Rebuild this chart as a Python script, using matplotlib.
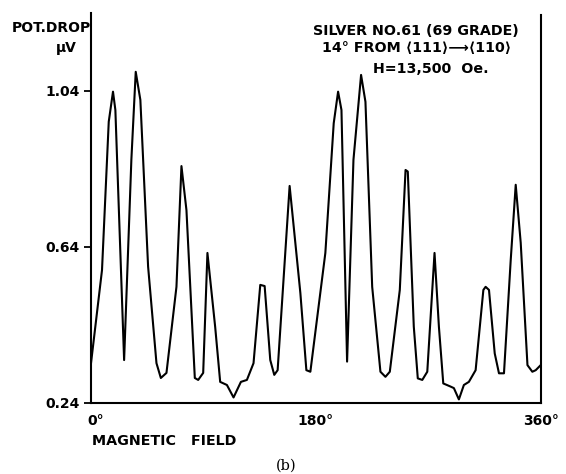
import matplotlib
matplotlib.use("Agg")
import matplotlib.pyplot as plt
import matplotlib.transforms as mtransforms

# Data (angle in degrees, potential drop in microvolts)
angle_deg = [0, 8.8, 14.2, 17.6, 19.5, 26.5, 32.3, 35.8, 39.5, 45.7, 52.4, 55.9, 60.4,
             68.4, 72.4, 76.4, 83.1, 85.8, 89.8, 93.2, 99.4, 103.4, 108.8, 114.1, 120.0,
             124.8, 130.1, 135.5, 139.0, 143.5, 146.7, 149.4, 159.0, 167.6, 172.4, 175.6,
             187.6, 194.3, 197.8, 200.5, 205.0, 210.1, 216.2, 219.7, 225.1, 231.7, 235.7,
             239.2, 247.2, 251.8, 253.6, 258.4, 261.6, 265.2, 269.2, 275.0, 278.5, 282.0,
             287.8, 290.5, 294.5, 298.5, 302.5, 307.9, 314.1, 315.9, 318.6, 323.2, 326.6,
             330.6, 336.0, 340.0, 344.0, 349.4, 353.3, 356.0, 360.0]
pot_drop = [0.341, 0.580, 0.961, 1.038, 0.991, 0.349, 0.863, 1.089, 1.017, 0.589, 0.341,
            0.303, 0.316, 0.537, 0.847, 0.734, 0.303, 0.298, 0.316, 0.624, 0.434, 0.293,
            0.285, 0.253, 0.293, 0.298, 0.341, 0.542, 0.539, 0.349, 0.311, 0.323, 0.796,
            0.521, 0.323, 0.319, 0.624, 0.957, 1.038, 0.991, 0.345, 0.863, 1.081, 1.012,
            0.537, 0.319, 0.306, 0.319, 0.529, 0.837, 0.833, 0.435, 0.302, 0.298, 0.319,
            0.624, 0.435, 0.289, 0.281, 0.277, 0.248, 0.285, 0.293, 0.323, 0.529, 0.537,
            0.529, 0.366, 0.315, 0.315, 0.606, 0.799, 0.650, 0.336, 0.319, 0.323, 0.336]

y_ticks = [0.24, 0.64, 1.04]
y_tick_labels = ["0.24", "0.64", "1.04"]
x_ticks = [0, 180, 360]
x_tick_labels = ["0°", "180°", "360°"]

fig = plt.figure(figsize=(5.66, 4.74), dpi=100)
ax = fig.add_axes([0.1608, 0.1508, 0.9553 - 0.1608, 0.9726 - 0.1508])

ax.plot(angle_deg, pot_drop, color="black", lw=1.5, solid_joinstyle="round")
ax.set_xlim(0, 360)
ax.set_ylim(0.24, 1.24)

ax.spines["top"].set_visible(False)
for s in ["left", "bottom", "right"]:
    ax.spines[s].set_linewidth(1.5)
ax.spines["right"].set_bounds(0.24, 1.235)

ax.set_yticks(y_ticks)
ax.set_yticklabels(y_tick_labels, fontsize=10, fontweight="bold")
ax.tick_params(axis="y", direction="out", length=5, width=1.3, pad=3)
ax.set_xticks(x_ticks)
ax.set_xticklabels(x_tick_labels, fontsize=10, fontweight="bold")
ax.tick_params(axis="x", length=0, pad=8)
# nudge the 0° label slightly right as in the reference
lbl0 = ax.get_xticklabels()[0]
lbl0.set_transform(lbl0.get_transform() +
                   mtransforms.ScaledTranslation(5 / 100, 0, fig.dpi_scale_trans))

fig.text(51 / 566, 1 - 28 / 474, "POT.DROP", fontsize=10, fontweight="bold",
         ha="center", va="center")
fig.text(77 / 566, 1 - 48 / 474, "μV", fontsize=10, fontweight="bold",
         ha="right", va="center")

fig.text(416 / 566, 1 - 31 / 474, "SILVER NO.61 (69 GRADE)", fontsize=10.3,
         fontweight="bold", ha="center", va="center")
fig.text(417 / 566, 1 - 48 / 474, "14° FROM ⟨111⟩⟶⟨110⟩", fontsize=10.3,
         fontweight="bold", ha="center", va="center")
fig.text(431 / 566, 1 - 69 / 474, "H=13,500  Oe.", fontsize=10.3,
         fontweight="bold", ha="center", va="center")

fig.text(92 / 566, 1 - 441 / 474, "MAGNETIC   FIELD", fontsize=10.3,
         fontweight="bold", ha="left", va="center")
fig.text(286 / 566, 1 - 466 / 474, "(b)", fontsize=10.5, family="DejaVu Serif",
         ha="center", va="center")

fig.savefig("out.png", dpi=100)
